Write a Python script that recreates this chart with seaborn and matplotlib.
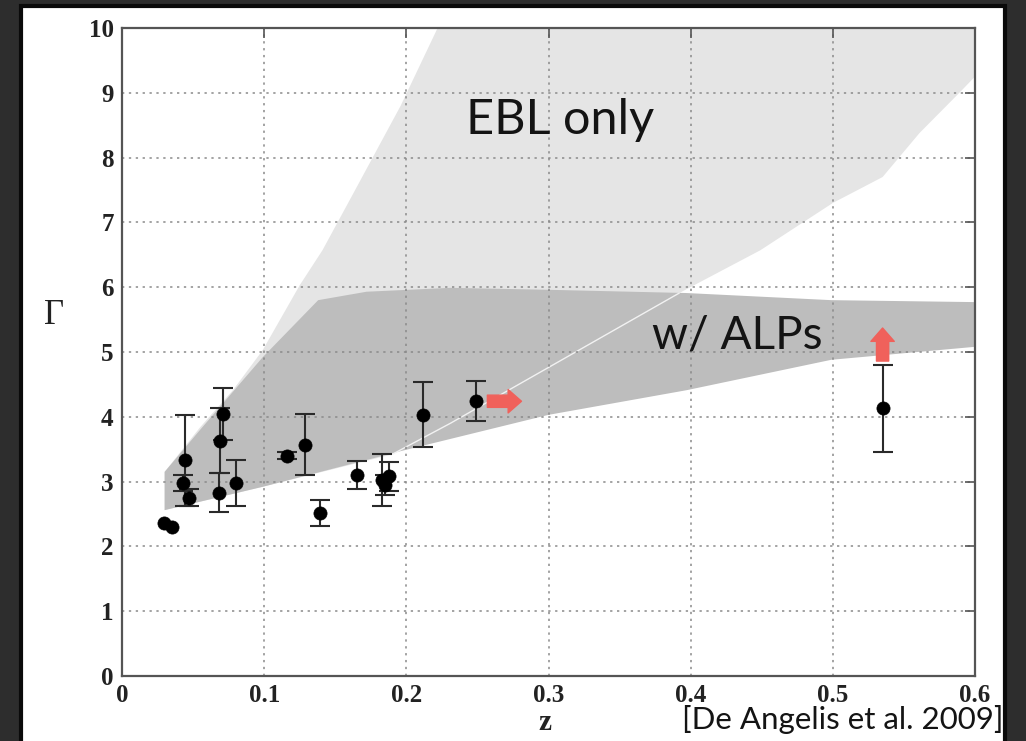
import matplotlib
matplotlib.use("Agg")
import matplotlib.pyplot as plt
import seaborn as sns
import pandas as pd
from matplotlib.patches import Rectangle

# ---------------- data ----------------
# blazar measurements: redshift, photon index, symmetric error
z_obs = [0.0295, 0.035, 0.044, 0.043, 0.047, 0.071, 0.069, 0.068, 0.080,
         0.116, 0.129, 0.139, 0.165, 0.183, 0.185, 0.188, 0.212, 0.249, 0.535]
gamma_obs = [2.36, 2.30, 3.33, 2.98, 2.75, 4.04, 3.63, 2.83, 2.98,
             3.40, 3.57, 2.52, 3.10, 3.02, 2.95, 3.08, 4.03, 4.24, 4.13]
gamma_err = [0.0, 0.0, 0.70, 0.12, 0.13, 0.40, 0.50, 0.30, 0.35,
             0.05, 0.47, 0.20, 0.22, 0.40, 0.15, 0.22, 0.50, 0.31, 0.67]

# "w/ ALPs" band
alp_upper_z = [0.030, 0.055, 0.099, 0.138, 0.172, 0.231, 0.300, 0.397, 0.499, 0.600]
alp_upper_g = [3.15, 3.80, 4.92, 5.80, 5.93, 5.99, 5.96, 5.91, 5.80, 5.77]
alp_lower_z = [0.030, 0.099, 0.196, 0.300, 0.397, 0.499, 0.600]
alp_lower_g = [2.56, 2.92, 3.47, 4.03, 4.41, 4.88, 5.08]

# "EBL only" band
ebl_lower_z = [0.030, 0.099, 0.190, 0.231, 0.392, 0.449, 0.500, 0.535, 0.561, 0.589, 0.600]
ebl_lower_g = [2.56, 2.92, 3.42, 3.90, 5.91, 6.57, 7.30, 7.70, 8.38, 9.00, 9.25]
ebl_left_z = [0.030, 0.055, 0.078, 0.099, 0.125, 0.141, 0.164, 0.196, 0.222]
ebl_left_g = [3.15, 3.84, 4.41, 5.03, 6.03, 6.57, 7.50, 8.80, 10.0]

# red lower-limit arrows: (z_start, g_start) -> (z_end, g_end)
arrow_start_z = [0.257, 0.535]
arrow_start_g = [4.24, 4.86]
arrow_end_z = [0.281, 0.535]
arrow_end_g = [4.24, 5.37]

x_ticks = [0, 0.1, 0.2, 0.3, 0.4, 0.5, 0.6]
x_tick_labels = ["0", "0.1", "0.2", "0.3", "0.4", "0.5", "0.6"]
y_ticks = list(range(0, 11))
y_tick_labels = [str(v) for v in y_ticks]

# ---------------- figure ----------------
sns.set_theme(style="white")
plt.rcParams["font.family"] = ["Liberation Serif", "DejaVu Serif"]

W, H = 1026, 741
fig = plt.figure(figsize=(W / 100, H / 100), dpi=100, facecolor="#2d2d2d")

# white slide panel with a black border
panel = Rectangle((21 / W, -0.01), (1005 - 21) / W, (H - 6) / H + 0.01, transform=fig.transFigure,
                  facecolor="white", edgecolor="#0a0a0a", linewidth=3, zorder=-5)
fig.patches.append(panel)

ax = fig.add_axes([122 / W, (H - 676) / H, (975 - 122) / W, (676 - 28) / H])
ax.set_zorder(2)
ax.set_facecolor("white")

# EBL-only region (light)
ebl_poly_z = ebl_lower_z + [0.600, 0.600] + ebl_left_z[::-1]
ebl_poly_g = ebl_lower_g + [9.25, 10.0] + ebl_left_g[::-1]
ax.fill(ebl_poly_z, ebl_poly_g, color="#e5e5e5", lw=0, zorder=1)

# ALP region (dark)
alp_poly_z = alp_upper_z + alp_lower_z[::-1]
alp_poly_g = alp_upper_g + alp_lower_g[::-1]
ax.fill(alp_poly_z, alp_poly_g, color="#bdbdbd", lw=0, zorder=2)

# thin white edge of EBL region through the ALP band
ax.plot(ebl_lower_z[2:5], ebl_lower_g[2:5], color="#f2f2f2", lw=1.0, zorder=2.5)

# grid
ax.grid(True, color="#8a8a8a", linestyle=(0, (1.5, 3)), linewidth=1.1, zorder=3)
ax.set_axisbelow(False)
for gl in ax.get_xgridlines() + ax.get_ygridlines():
    gl.set_zorder(3)

# error bars (only for points with a measured error) + points
df = pd.DataFrame({"z": z_obs, "Gamma": gamma_obs, "err": gamma_err})
de = df[df["err"] > 0]
ax.errorbar(de["z"], de["Gamma"], yerr=de["err"], fmt="none", ecolor="#2a2a2a",
            elinewidth=1.5, capsize=7, capthick=1.5, zorder=4)
sns.scatterplot(data=df, x="z", y="Gamma", ax=ax, color="black", s=90,
                edgecolor="black", linewidth=0.5, zorder=5, legend=False)

# red arrows
for zs, gs, ze, ge in zip(arrow_start_z, arrow_start_g, arrow_end_z, arrow_end_g):
    ax.annotate("", xy=(ze, ge), xytext=(zs, gs),
                arrowprops=dict(arrowstyle="simple,head_length=0.6,head_width=1.05,tail_width=0.55",
                                color="#f0615b", shrinkA=0, shrinkB=0, mutation_scale=16),
                zorder=6)

# axes
ax.set_xlim(0, 0.6)
ax.set_ylim(0, 10)
ax.set_xticks(x_ticks)
ax.set_xticklabels(x_tick_labels)
ax.set_yticks(y_ticks)
ax.set_yticklabels(y_tick_labels)
ax.tick_params(direction="in", length=7, width=1.2, color="#555555",
               top=True, right=True, labelsize=18, pad=6, labelcolor="#222222")
for lab in ax.get_xticklabels() + ax.get_yticklabels():
    lab.set_fontweight("bold")
for sp in ax.spines.values():
    sp.set_color("#555555")
    sp.set_linewidth(1.6)
    sp.set_zorder(7)

ax.set_xlabel("z", fontsize=21, fontweight="bold", color="#222222", va="center")
ax.set_ylabel("Γ", fontsize=25, color="#222222", rotation=0, va="center", ha="center")
ax.xaxis.set_label_coords(0.496, -0.072)
ax.yaxis.set_label_coords(-0.08, 0.557)

# annotations
sans = ["Lato", "Open Sans", "DejaVu Sans"]
ax.text(0.3085, 8.58, "EBL only", family=sans, fontweight="normal", fontsize=35,
        color="#141414", ha="center", va="center", zorder=8)
ax.text(0.433, 5.26, "w/ ALPs", family=sans, fontweight="normal", fontsize=33,
        color="#141414", ha="center", va="center", zorder=8)
fig.text(1004 / W, (H - 720) / H, "[De Angelis et al. 2009]", family=sans,
         fontweight="normal", fontsize=22.5, color="#141414", ha="right", va="center",
         zorder=10)

fig.savefig("out.png", dpi=100, facecolor=fig.get_facecolor())
